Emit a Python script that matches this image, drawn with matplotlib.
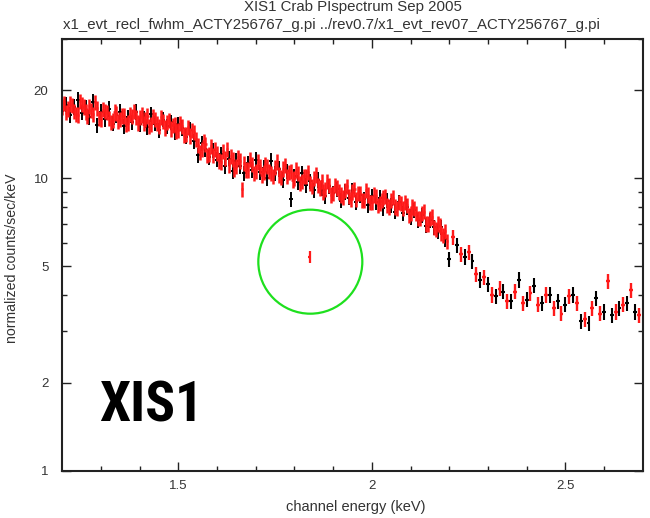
import numpy as np
import matplotlib
matplotlib.use('Agg')
import matplotlib.pyplot as plt
from matplotlib import font_manager as fm
from matplotlib.patches import Circle
from matplotlib.transforms import ScaledTranslation
from matplotlib.ticker import FixedLocator, NullFormatter, FixedFormatter

# ---------------- data ----------------
title1 = 'XIS1 Crab PIspectrum Sep 2005'
title2 = 'x1_evt_recl_fwhm_ACTY256767_g.pi ../rev0.7/x1_evt_rev07_ACTY256767_g.pi'
xlabel = 'channel energy (keV)'
ylabel = 'normalized counts/sec/keV'
panel_label = 'XIS1'

# channel grids: first bin centre and bin spacing (keV)
red_low_a_start, red_low_b_start, red_low_step = 1.200, 1.205, 0.01
black_low_start, black_low_step = 1.200, 0.01
red_high_start, red_high_step = 2.21, 0.02
black_high_start, black_high_step = 2.20, 0.02
red_low_halfwidth = 0.0028
black_low_halfwidth = 0.005
high_halfwidth = 0.005
low_rel_err = 0.06
high_rel_err = 0.06

# red spectrum, channels at 1.200, 1.210, ...
red_low_a = [
    17.6, 16.8, 18.0, 17.0, 16.5, 17.9, 16.9, 17.7, 16.6, 17.4,
    16.0, 17.0, 16.1, 15.8, 16.7, 15.9, 16.4, 15.5, 16.3, 16.2,
    16.2, 15.4, 16.4, 15.3, 15.9, 15.1, 15.7, 15.6, 14.8, 15.3,
    14.6, 15.1, 14.2, 14.0, 14.4, 13.0, 12.6, 13.1, 12.1, 12.0,
    12.2, 11.4, 11.7, 11.1, 11.6, 11.0, 11.5, 11.3, 10.7, 11.2,
    10.6, 11.0, 10.5, 11.0, 10.4, 10.9, 10.3, 10.8, 10.2, 10.6,
    10.0, 10.4, 9.8, 10.2, 9.6, 10.0, 9.5, 9.8, 9.2, 9.5,
    8.9, 9.3, 8.8, 9.1, 8.7, 9.0, 8.5, 8.9, 8.4, 8.8,
    8.3, 8.7, 8.2, 8.6, 8.1, 8.4, 8.0, 8.3, 7.9, 8.1,
    7.6, 7.9, 7.3, 7.6, 7.0, 7.3, 6.8, 7.0, 6.5, 6.6,
]
# red spectrum, channels at 1.205, 1.215, ...
red_low_b = [
    18.1, 17.3, 17.8, 16.6, 18.4, 17.6, 16.4, 17.1, 18.2, 16.1,
    17.2, 16.8, 15.6, 16.9, 15.7, 16.4, 15.3, 16.6, 17.0, 15.5,
    16.5, 15.9, 15.1, 16.3, 15.4, 16.2, 14.9, 15.8, 15.2, 14.5,
    15.4, 14.1, 15.0, 14.6, 13.6, 12.3, 13.4, 12.0, 12.9, 12.6,
    11.5, 12.4, 12.6, 11.9, 10.8, 11.8, 9.2, 10.7, 11.6, 10.4,
    11.4, 10.3, 11.2, 10.6, 10.2, 11.4, 10.1, 11.1, 10.5, 9.9,
    10.7, 9.6, 10.2, 10.5, 9.4, 10.3, 9.3, 9.0, 9.8, 8.8,
    9.5, 9.0, 8.6, 9.4, 8.5, 9.2, 8.9, 8.4, 9.1, 8.3,
    8.8, 8.1, 8.4, 8.7, 8.0, 8.6, 7.9, 8.2, 8.3, 7.5,
    8.0, 7.6, 7.3, 7.7, 7.0, 7.4, 6.7, 6.9, 6.4, 6.1,
]
black_low = [
    17.0, 17.9, 16.5, 17.6, 18.6, 16.8, 17.5, 16.2, 18.3, 15.2,
    16.9, 16.0, 17.3, 15.4, 16.5, 16.9, 15.1, 16.2, 15.6, 16.9,
    15.3, 16.1, 15.0, 16.6, 15.4, 14.6, 15.9, 15.1, 15.6, 14.4,
    15.3, 14.9, 13.9, 14.7, 13.4, 12.0, 13.2, 12.6, 11.8, 12.5,
    11.6, 12.1, 11.0, 11.7, 10.6, 11.5, 11.0, 10.4, 11.3, 10.7,
    11.6, 10.5, 10.9, 10.0, 11.5, 10.4, 10.8, 9.9, 10.6, 8.5,
    10.2, 9.7, 10.4, 9.5, 9.8, 9.1, 9.9, 9.3, 8.7, 9.4,
    8.9, 9.2, 8.4, 9.0, 8.6, 9.1, 8.3, 8.8, 8.5, 8.1,
    8.7, 8.3, 8.6, 7.9, 8.4, 8.1, 7.7, 8.3, 7.6, 8.0,
    7.4, 7.8, 7.2, 7.5, 6.9, 7.2, 6.8, 6.6, 6.8, 6.2,
]
red_high = [
    6.3, 5.5, 5.6, 4.7, 4.6, 4.0, 4.2, 3.8, 4.1, 3.75,
    4.05, 3.7, 4.0, 3.6, 3.45, 3.95, 3.75, 3.3, 3.6, 3.45,
    4.45, 3.5, 3.7, 4.15, 3.4,
]
black_high = [
    5.3, 5.9, 5.4, 5.2, 4.5, 4.35, 3.95, 4.1, 3.8, 4.5,
    3.85, 4.3, 3.75, 4.0, 3.8, 3.7, 4.0, 3.25, 3.2, 3.9,
    3.5, 3.4, 3.6, 3.75, 3.5,
]
# isolated red channel inside the green circle
red_outlier_e = [1.840]
red_outlier_v = [5.39]
circle_center = (1.841, 5.19)   # keV, counts/sec/keV

xmajor = [1.5, 2.0, 2.5]
xmajor_labels = ['1.5', '2', '2.5']
xminor = [1.3, 1.4, 1.6, 1.7, 1.8, 1.9, 2.1, 2.2, 2.3, 2.4, 2.6]
ymajor = [1, 2, 5, 10, 20]
ymajor_labels = ['1', '2', '5', '10', '20']
yminor = [3, 4, 6, 7, 8, 9, 30]

# ---------------- figure ----------------
W, H = 650, 518
fig = plt.figure(figsize=(W / 100, H / 100), dpi=100)
L, R, T, B = 62.3, 642.7, 39, 470.7
ax = fig.add_axes([L / W, 1 - B / H, (R - L) / W, (B - T) / H])

txt_font = ['Liberation Sans', 'DejaVu Sans']
txt_col = '#333333'
red_col = '#ff1a1a'


def series(start, step, vals):
    v = np.asarray(vals, dtype=float)
    e = start + step * np.arange(len(v))
    return e, v


for (start, step, vals, hw, rel, col, lw) in [
    (black_low_start, black_low_step, black_low, black_low_halfwidth, low_rel_err, 'black', 1.4),
    (black_high_start, black_high_step, black_high, high_halfwidth, high_rel_err, 'black', 1.5),
    (red_low_a_start, red_low_step, red_low_a, red_low_halfwidth, low_rel_err, red_col, 1.8),
    (red_low_b_start, red_low_step, red_low_b, red_low_halfwidth, low_rel_err, red_col, 1.8),
    (red_high_start, red_high_step, red_high, high_halfwidth, high_rel_err, red_col, 1.7),
]:
    e, v = series(start, step, vals)
    ax.errorbar(e, v, xerr=hw, yerr=rel * v, fmt='none', ecolor=col,
                elinewidth=lw, capsize=0)

ov = np.asarray(red_outlier_v)
ax.errorbar(red_outlier_e, ov, xerr=0.004, yerr=0.05 * ov, fmt='none',
            ecolor=red_col, elinewidth=1.6, capsize=0)

ax.set_xscale('linear')
ax.set_yscale('log')
ax.set_xlim(1.2, 2.7)
ax.set_ylim(1, 30)

ax.xaxis.set_major_locator(FixedLocator(xmajor))
ax.xaxis.set_major_formatter(FixedFormatter(xmajor_labels))
ax.xaxis.set_minor_locator(FixedLocator(xminor))
ax.xaxis.set_minor_formatter(NullFormatter())
ax.yaxis.set_major_locator(FixedLocator(ymajor))
ax.yaxis.set_major_formatter(FixedFormatter(ymajor_labels))
ax.yaxis.set_minor_locator(FixedLocator(yminor))
ax.yaxis.set_minor_formatter(NullFormatter())

ax.tick_params(which='both', direction='in', top=True, right=True,
               color='#222222', width=1.0)
ax.tick_params(which='major', length=6.5)
ax.tick_params(which='minor', length=3.6)
ax.tick_params(axis='x', which='major', pad=7, labelsize=9.5, labelcolor=txt_col)
ax.tick_params(axis='y', which='major', pad=10, labelsize=9.5, labelcolor=txt_col)
for lab in ax.get_xticklabels() + ax.get_yticklabels():
    lab.set_family(txt_font)
for s in ax.spines.values():
    s.set_linewidth(1.5)
    s.set_color('#222222')

# titles and labels
fig.text(353 / W, 1 - 10.5 / H, title1, ha='center', va='baseline',
         fontsize=10.8, family=txt_font, color=txt_col)
fig.text(331 / W, 1 - 29 / H, title2, ha='center', va='baseline',
         fontsize=10.8, family=txt_font, color=txt_col)
fig.text(356 / W, 1 - 507 / H, xlabel, ha='center', va='center',
         fontsize=10.5, family=txt_font, color=txt_col)
fig.text(12.5 / W, 1 - 258 / H, ylabel, ha='center', va='center', rotation=90,
         fontsize=10.2, family=txt_font, color=txt_col)

# big panel label
names = {f.name for f in fm.fontManager.ttflist}
big_fam, big_size = 'Liberation Sans', 38
for cand in ['Liberation Sans Narrow', 'Roboto Condensed', 'Open Sans Condensed',
             'DejaVu Sans Condensed']:
    if cand in names:
        big_fam, big_size = cand, 40
        break
fig.text(99 / W, 1 - 421 / H, panel_label, ha='left', va='baseline',
         fontsize=big_size, fontweight='bold', family=[big_fam, 'DejaVu Sans'],
         color='black')

# green circle (round in pixel space)
circ = Circle((0, 0), radius=0.52, fill=False, ec='#1ee01e', lw=1.6,
              transform=fig.dpi_scale_trans + ScaledTranslation(
                  circle_center[0], circle_center[1], ax.transData),
              clip_on=False, zorder=5)
ax.add_patch(circ)

fig.savefig('out.png', dpi=100)
